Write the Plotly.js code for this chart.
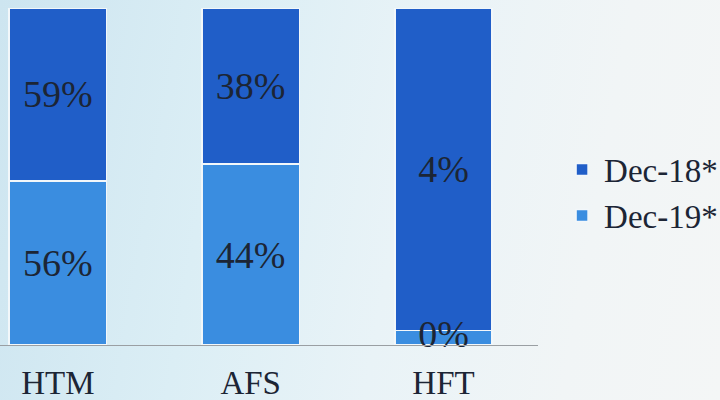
<!DOCTYPE html>
<html>
<head>
<meta charset="utf-8">
<script src="https://cdn.plot.ly/plotly-3.0.1.min.js"></script>
<style>
  html, body { margin: 0; padding: 0; }
  body {
    width: 720px; height: 400px; overflow: hidden;
    background: linear-gradient(100deg, #cde5f0 0%, #dbeef5 30%, #e9f3f7 55%, #f1f5f6 80%, #f4f6f6 100%);
  }
  #chart { width: 720px; height: 400px; }
</style>
</head>
<body>
<div id="chart"></div>
<script>
const categories = ["HTM", "AFS", "HFT"];
const dec19Values = [56, 44, 0.18];
const dec18Values = [59, 38, 4];
const dec19Labels = ["56%", "44%", "0%"];
const dec18Labels = ["59%", "38%", "4%"];

const serif = "Liberation Serif, Times New Roman, serif";
const labelFont = { family: serif, size: 38, color: "#1c2535" };

// labels of segments too thin to hold their text are drawn by a text trace at the segment centre
const thin = dec19Values.map((v, i) => 100 * v / (v + dec18Values[i]) < 10);
const thinX = categories.filter((c, i) => thin[i]);
const thinY = dec19Values.map((v, i) => 50 * v / (v + dec18Values[i])).filter((y, i) => thin[i]);
const thinText = dec19Labels.filter((t, i) => thin[i]);

const traces = [
  {
    type: "bar", name: "Dec-19*", x: categories, y: dec19Values,
    text: dec19Labels.map((t, i) => thin[i] ? "" : t),
    textposition: "inside", insidetextanchor: "middle",
    constraintext: "none", insidetextfont: labelFont, textangle: 0,
    marker: { color: "#3a8de0", line: { color: "#f2f7fa", width: 1.5 } },
    hoverinfo: "none"
  },
  {
    type: "bar", name: "Dec-18*", x: categories, y: dec18Values,
    text: dec18Labels, textposition: "inside", insidetextanchor: "middle",
    constraintext: "none", insidetextfont: labelFont, textangle: 0,
    marker: { color: "#205ec8", line: { color: "#f2f7fa", width: 1.5 } },
    hoverinfo: "none"
  },
  {
    type: "scatter", mode: "text", x: thinX, y: thinY, text: thinText,
    textposition: "middle center", textfont: labelFont, cliponaxis: false,
    showlegend: false, hoverinfo: "none"
  }
];

const layout = {
  width: 720, height: 400,
  margin: { l: 0, r: 182, t: 8, b: 30, autoexpand: false },
  paper_bgcolor: "rgba(0,0,0,0)",
  plot_bgcolor: "rgba(0,0,0,0)",
  barmode: "stack",
  barnorm: "percent",
  bargap: 0.495,
  showlegend: true,
  legend: {
    x: 1.041, xanchor: "left", y: 0.49, yanchor: "middle",
    itemwidth: 34,
    font: { family: serif, size: 33, color: "#1c2535" },
    bgcolor: "rgba(0,0,0,0)", traceorder: "reversed"
  },
  xaxis: {
    range: [-0.3, 2.49], showgrid: false, zeroline: false,
    anchor: "free", position: 0.069,
    showline: true, linecolor: "#9a9fa3", linewidth: 1.2,
    ticks: "", ticklabelstandoff: 8,
    tickfont: { family: serif, size: 33, color: "#1c2535" }
  },
  yaxis: {
    range: [-7.42, 100], visible: false, showgrid: false, zeroline: false
  }
};

Plotly.newPlot("chart", traces, layout, { staticPlot: true, displayModeBar: false });
</script>
</body>
</html>
